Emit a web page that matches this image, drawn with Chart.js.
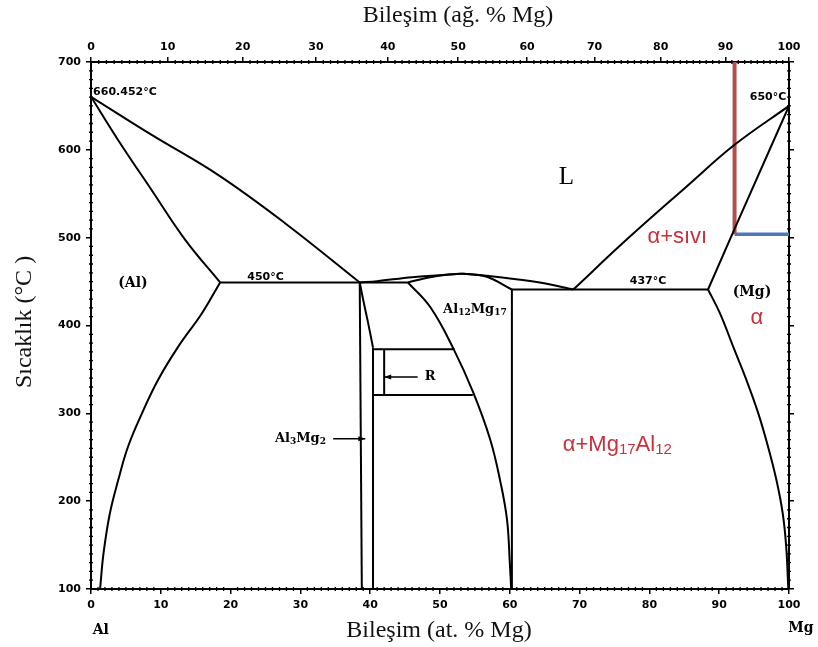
<!DOCTYPE html>
<html lang="tr">
<head>
<meta charset="utf-8">
<title>Al-Mg faz diyagramı</title>
<script src="https://cdn.jsdelivr.net/npm/chart.js@4.4.0/dist/chart.umd.min.js"></script>
<style>
  html, body { margin: 0; padding: 0; background: #fff; }
  #kutu { width: 818px; height: 647px; }
</style>
</head>
<body>
<div id="kutu"><canvas id="faz" width="818" height="647"></canvas></div>
<script>
// Eksen etiketleri
const atEtiketleri = [0, 10, 20, 30, 40, 50, 60, 70, 80, 90, 100];      // alt eksen (at. % Mg)
const agEtiketleri = [0, 10, 20, 30, 40, 50, 60, 70, 80, 90, 100];      // üst eksen (ağ. % Mg)
const sicaklikEtiketleri = [100, 200, 300, 400, 500, 600, 700];         // °C

// Faz sınırları, her nokta [at. % Mg, °C]
const alLikidus = [[0, 660.45], [8.7, 617], [18.2, 571.5], [27.8, 516.5], [38.5, 449]];
const alSolidus = [[0, 660.45], [3.9, 611], [8.7, 554], [13.5, 497.5], [18.5, 449]];
const alSolvus = [[18.5, 449], [15.9, 414], [12.5, 376], [9.6, 338], [7.3, 300], [5.3, 262], [3.9, 224], [2.7, 186], [1.8, 141], [1.3, 100]];
const otektik450 = [[18.5, 449], [45.4, 449]];
const betaSol = [[38.5, 449], [38.8, 100]];
const betaSagUst = [[38.5, 449], [39.0, 429], [39.7, 403], [40.4, 375]];
const betaSagAlt = [[40.4, 375], [40.4, 100]];
const gamaSol = [[45.4, 449], [48.6, 421], [51.9, 374], [54.8, 323], [57.2, 270], [58.6, 224], [59.6, 179], [60.0, 130], [60.2, 100]];
const gamaSag = [[60.3, 441], [60.3, 100]];
const gamaSolidus = [[45.4, 449], [48.6, 455], [51.0, 457.8], [53.3, 458.8], [56.7, 455.5], [60.3, 441]];
const gamaLikidus = [[38.5, 449], [41, 450.5], [46, 455], [51.4, 458], [53.3, 458.8], [58.6, 455], [64.3, 449], [69.1, 441]];
const rUst = [[40.4, 373], [52.1, 373]];
const rAlt = [[40.4, 321], [54.7, 321]];
const rDikey = [[42, 373], [42, 321]];
const otektik437 = [[60.3, 441], [88.4, 441]];
const mgLikidus = [[69.1, 441], [76.7, 497.5], [85.3, 558], [92.2, 605.7], [100, 650]];
const mgSolidus = [[100, 650], [92.2, 510], [88.4, 441]];
const mgSolvus = [[88.4, 441], [90.1, 414], [92.0, 376], [93.9, 338], [95.6, 300], [97.0, 262], [98.2, 224], [99.1, 186], [99.6, 148], [99.9, 100]];
// işaretli alaşım
const kirmiziCizgi = [[92.2, 700], [92.2, 504]];
const maviCizgi = [[92.2, 504], [100, 504]];

// ağ. % -> at. % dönüşümü (üst eksen için)
function agdanAt(w) {
    const mg = w / 24.305, al = (100 - w) / 26.982;
    return 100 * mg / (mg + al);
}

const sinirlar = [
    { ad: 'Al likidüs', veri: alLikidus, egri: 0.4 },
    { ad: 'Al solidüs', veri: alSolidus, egri: 0.4 },
    { ad: 'Al solvüs', veri: alSolvus, egri: 0.4 },
    { ad: '450', veri: otektik450 },
    { ad: 'beta sol', veri: betaSol },
    { ad: 'beta sağ üst', veri: betaSagUst, egri: 0.3 },
    { ad: 'beta sağ alt', veri: betaSagAlt },
    { ad: 'gama sol', veri: gamaSol, egri: 0.4 },
    { ad: 'gama sağ', veri: gamaSag },
    { ad: 'gama solidüs', veri: gamaSolidus, egri: 0.35 },
    { ad: 'gama likidüs', veri: gamaLikidus, egri: 0.35 },
    { ad: 'R üst', veri: rUst },
    { ad: 'R alt', veri: rAlt },
    { ad: 'R dikey', veri: rDikey },
    { ad: '437', veri: otektik437 },
    { ad: 'Mg likidüs', veri: mgLikidus, egri: 0.4 },
    { ad: 'Mg solidüs', veri: mgSolidus },
    { ad: 'Mg solvüs', veri: mgSolvus, egri: 0.4 },
    { ad: 'kırmızı', veri: kirmiziCizgi, renk: '#b54e4b', kalinlik: 4 },
    { ad: 'mavi', veri: maviCizgi, renk: '#4c79b2', kalinlik: 3.5 }
];

// Yazılar (veri koordinatlarında)
const stiller = {
    kucuk: { boyut: 11, aile: '"DejaVu Sans"', kalin: true, renk: '#000' },
    faz: { boyut: 14, aile: '"DejaVu Serif"', kalin: true, renk: '#000' },
    faz2: { boyut: 13, aile: '"DejaVu Serif"', kalin: true, renk: '#000' },
    L: { boyut: 25, aile: '"Liberation Serif"', kalin: false, renk: '#000' },
    kirmizi: { boyut: 22, aile: '"Liberation Sans"', kalin: false, renk: '#c8303a' }
};
const yazilar = [
    { metin: '660.452°C', x: 0.3, y: 666, stil: 'kucuk', hiza: 'left' },
    { metin: '650°C', x: 97, y: 660, stil: 'kucuk' },
    { metin: '450°C', x: 25, y: 455, stil: 'kucuk' },
    { metin: '437°C', x: 79.8, y: 450, stil: 'kucuk' },
    { metin: '(Al)', x: 6, y: 448, stil: 'faz' },
    { metin: '(Mg)', x: 94.7, y: 438, stil: 'faz' },
    { metin: 'Al_12Mg_17', x: 55, y: 418, stil: 'faz2' },
    { metin: 'Al_3Mg_2', x: 30, y: 271, stil: 'faz2' },
    { metin: 'R', x: 48.6, y: 341.5, stil: 'faz2' },
    { metin: 'L', x: 68.1, y: 569, stil: 'L' },
    { metin: 'α+sıvı', x: 84, y: 501, stil: 'kirmizi' },
    { metin: 'α', x: 95.4, y: 409, stil: 'kirmizi' },
    { metin: 'α+Mg_17Al_12', x: 75.4, y: 264, stil: 'kirmizi' }
];
const oklar = [
    { bas: [34.7, 271], uc: [39.3, 271] },
    { bas: [46.8, 341.5], uc: [42, 341.5] }
];

// alt indisli yazı çizer ("Al_12" -> Al₁₂)
function zenginYazi(ctx, metin, x, y, s, hiza) {
    const parcalar = metin.split(/(_\d+)/).filter(Boolean);
    const k = s.kalin ? 'bold ' : '';
    const anaFont = k + s.boyut + 'px ' + s.aile;
    const altFont = k + Math.round(s.boyut * 0.68) + 'px ' + s.aile;
    let toplam = 0;
    const olcu = parcalar.map(p => {
        const alt = p[0] === '_';
        const t = alt ? p.slice(1) : p;
        ctx.font = alt ? altFont : anaFont;
        const w = ctx.measureText(t).width;
        toplam += w;
        return { t, alt, w };
    });
    let bx = hiza === 'left' ? x : (hiza === 'right' ? x - toplam : x - toplam / 2);
    ctx.fillStyle = s.renk;
    ctx.textAlign = 'left';
    ctx.textBaseline = 'middle';
    olcu.forEach(o => {
        ctx.font = o.alt ? altFont : anaFont;
        ctx.fillText(o.t, bx, o.alt ? y + s.boyut * 0.22 : y);
        bx += o.w;
    });
}

const arkaPlan = {
    id: 'arkaPlan',
    beforeDraw(chart) {
        const ctx = chart.ctx;
        ctx.save();
        ctx.fillStyle = '#fff';
        ctx.fillRect(0, 0, chart.width, chart.height);
        ctx.restore();
    }
};

// eksenlerdeki küçük çentikler (noktalı görünüm)
const kucukCentikler = {
    id: 'kucukCentikler',
    afterDraw(chart) {
        const ctx = chart.ctx, a = chart.chartArea;
        const sx = chart.scales.x, sy = chart.scales.y;
        ctx.save();
        ctx.strokeStyle = '#000';
        ctx.lineWidth = 1.3;
        ctx.beginPath();
        for (let v = 1; v < 100; v++) {
            if (v % 10 === 0) continue;
            const px = sx.getPixelForValue(v);
            ctx.moveTo(px, a.bottom - 2); ctx.lineTo(px, a.bottom + 2);
            const pt = sx.getPixelForValue(agdanAt(v));
            ctx.moveTo(pt, a.top - 2); ctx.lineTo(pt, a.top + 2);
        }
        for (let t = 110; t < 700; t += 10) {
            if (t % 100 === 0) continue;
            const py = sy.getPixelForValue(t);
            ctx.moveTo(a.left - 2, py); ctx.lineTo(a.left + 2, py);
            ctx.moveTo(a.right - 2, py); ctx.lineTo(a.right + 2, py);
        }
        ctx.stroke();
        ctx.restore();
    }
};

const yaziEklentisi = {
    id: 'yazilar',
    afterDatasetsDraw(chart) {
        const ctx = chart.ctx, a = chart.chartArea;
        const sx = chart.scales.x, sy = chart.scales.y;
        ctx.save();
        yazilar.forEach(y => {
            zenginYazi(ctx, y.metin, sx.getPixelForValue(y.x), sy.getPixelForValue(y.y), stiller[y.stil], y.hiza || 'center');
        });
        // oklar
        ctx.strokeStyle = '#000';
        ctx.fillStyle = '#000';
        ctx.lineWidth = 1.5;
        oklar.forEach(o => {
            const x1 = sx.getPixelForValue(o.bas[0]), y1 = sy.getPixelForValue(o.bas[1]);
            const x2 = sx.getPixelForValue(o.uc[0]), y2 = sy.getPixelForValue(o.uc[1]);
            const yon = Math.sign(x2 - x1);
            ctx.beginPath(); ctx.moveTo(x1, y1); ctx.lineTo(x2, y2); ctx.stroke();
            ctx.beginPath();
            ctx.moveTo(x2, y2); ctx.lineTo(x2 - yon * 7, y2 - 2.5); ctx.lineTo(x2 - yon * 7, y2 + 2.5);
            ctx.closePath(); ctx.fill();
        });
        // eksen başlıkları
        const baslik = { boyut: 24, aile: '"Liberation Serif"', kalin: false, renk: '#111' };
        zenginYazi(ctx, 'Bileşim (ağ. % Mg)', 458, 16, baslik, 'center');
        zenginYazi(ctx, 'Bileşim (at. % Mg)', 439, 631, baslik, 'center');
        ctx.save();
        ctx.translate(25, 322);
        ctx.rotate(-Math.PI / 2);
        zenginYazi(ctx, 'Sıcaklık (°C )', 0, 0, baslik, 'center');
        ctx.restore();
        const uc = { boyut: 14, aile: '"DejaVu Serif"', kalin: true, renk: '#000' };
        zenginYazi(ctx, 'Al', sx.getPixelForValue(1.4), a.bottom + 41, uc, 'center');
        zenginYazi(ctx, 'Mg', sx.getPixelForValue(101.7), a.bottom + 39, uc, 'center');
        ctx.restore();
    }
};

const tikFont = { family: 'DejaVu Sans', weight: 'bold', size: 11 };
const izgara = { drawOnChartArea: false, drawTicks: true, tickLength: 5, color: '#000', lineWidth: 1.5 };
const cerceve = { display: true, color: '#000', width: 2 };

const config = {
    type: 'scatter',
    data: {
        datasets: sinirlar.map(s => ({
            label: s.ad,
            data: s.veri.map(p => ({ x: p[0], y: p[1] })),
            showLine: true,
            borderColor: s.renk || '#000',
            borderWidth: s.kalinlik || 2,
            pointRadius: 0,
            tension: s.egri || 0,
            fill: false
        }))
    },
    options: {
        responsive: false,
        animation: false,
        layout: { padding: 0 },
        plugins: { legend: { display: false }, tooltip: { enabled: false } },
        scales: {
            x: {
                type: 'linear', position: 'bottom', min: 0, max: 100,
                afterBuildTicks: s => { s.ticks = atEtiketleri.map(v => ({ value: v })); },
                afterFit: s => { s.height = 58; },
                ticks: { font: tikFont, color: '#000', padding: 5, autoSkip: false, maxRotation: 0 },
                grid: izgara, border: cerceve
            },
            x2: {
                type: 'linear', position: 'top', min: 0, max: 100,
                afterBuildTicks: s => { s.ticks = agEtiketleri.map(w => ({ value: agdanAt(w) })); },
                afterFit: s => { s.height = 62; },
                ticks: { font: tikFont, color: '#000', padding: 3, autoSkip: false, maxRotation: 0,
                         callback: (v, i) => agEtiketleri[i] },
                grid: izgara, border: cerceve
            },
            y: {
                type: 'linear', position: 'left', min: 100, max: 700,
                afterBuildTicks: s => { s.ticks = sicaklikEtiketleri.map(v => ({ value: v })); },
                afterFit: s => { s.width = 91; },
                ticks: { font: tikFont, color: '#000', padding: 5, autoSkip: false },
                grid: izgara, border: cerceve
            },
            y2: {
                type: 'linear', position: 'right', min: 100, max: 700,
                afterBuildTicks: s => { s.ticks = sicaklikEtiketleri.map(v => ({ value: v })); },
                afterFit: s => { s.width = 29; },
                ticks: { display: false },
                grid: izgara, border: cerceve
            }
        }
    },
    plugins: [arkaPlan, kucukCentikler, yaziEklentisi]
};

let diyagram = new Chart(document.getElementById('faz'), config);
</script>
</body>
</html>
